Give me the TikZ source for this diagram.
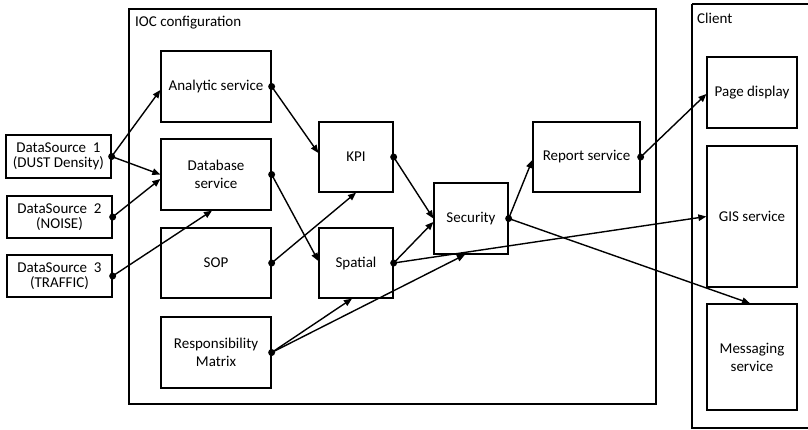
\documentclass[tikz,border=0pt]{standalone}
\usepackage{fontspec}
\setmainfont{Carlito}
\usetikzlibrary{arrows.meta,calc}
\begin{document}
\begin{tikzpicture}[x=1pt,y=-1pt,
  box/.style={draw,line width=1.3pt,inner sep=0pt,align=center,font=\fontsize{15}{18}\selectfont},
  dsbox/.style={box,font=\fontsize{15}{15}\selectfont},
  frame/.style={draw,line width=1.3pt},
  lbl/.style={anchor=west,inner sep=0pt,font=\fontsize{15}{18}\selectfont},
  conn/.style={line width=1.4pt,-{Triangle[length=8pt,width=6.5pt]}},
  dot/.style={circle,fill=black,inner sep=0pt,minimum size=7pt}]
\useasboundingbox (0,0) rectangle (808,429);
% frames
\draw[frame] (129,9) rectangle (656,404);
\draw[frame] (692,4) -- (692,428) -- (830,428);
\draw[frame] (692,4) -- (830,4);
\node[lbl] (ioclbl) at (135,23) {IOC configuration};
\node[lbl] (clientlbl) at (697,18) {Client};
% data sources
\node[dsbox,minimum width=105pt,minimum height=43pt] (ds1) at (58.5,156.5) {DataSource\ \ 1\\(DUST Density)};
\node[dsbox,minimum width=105pt,minimum height=42pt] (ds2) at (59.5,217) {DataSource\ \ 2\\(NOISE)};
\node[dsbox,minimum width=105pt,minimum height=42pt] (ds3) at (59.5,276) {DataSource\ \ 3\\(TRAFFIC)};
% IOC boxes
\node[box,minimum width=110pt,minimum height=71pt] (an) at (216,86.5) {Analytic service};
\node[box,minimum width=110pt,minimum height=71pt] (db) at (216,174.5) {Database\\service};
\node[box,minimum width=110pt,minimum height=70pt] (sop) at (216,263) {SOP};
\node[box,minimum width=110pt,minimum height=71pt] (resp) at (216,352.5) {Responsibility\\Matrix};
\node[box,minimum width=74pt,minimum height=70pt] (kpi) at (356,157) {KPI};
\node[box,minimum width=74pt,minimum height=70pt] (sp) at (356,263) {Spatial};
\node[box,minimum width=74pt,minimum height=71pt] (sec) at (471,218.5) {Security};
\node[box,minimum width=107pt,minimum height=70pt] (rep) at (586.5,157) {Report service};
% client boxes
\node[box,minimum width=90pt,minimum height=71pt] (pd) at (752,92.5) {Page display};
\node[box,minimum width=90pt,minimum height=141pt] (gis) at (752,216.5) {GIS service};
\node[box,minimum width=90pt,minimum height=106pt] (msg) at (752,357) {Messaging\\service};
% connectors
\draw[conn] (ds1.east) -- ([yshift=-3.5pt]an.west);
\draw[conn] (ds1.east) -- (db.west);
\draw[conn] (ds2.east) -- ([yshift=-4.5pt]db.west);
\draw[conn] (ds3.east) -- ([xshift=-4pt]db.south);
\draw[conn] (an.east) -- ([yshift=4pt]kpi.west);
\draw[conn] (db.east) -- ([yshift=2pt]sp.west);
\draw[conn] (sop.east) -- (kpi.south);
\draw[conn] (kpi.east) -- (sec.west);
\draw[conn] (sp.east) -- ([yshift=-3.5pt]sec.west);
\draw[conn] (sp.east) -- (gis.west);
\draw[conn] (resp.east) -- ([xshift=-4pt]sp.south);
\draw[conn] (resp.east) -- ([xshift=-6pt]sec.south);
\draw[conn] (sec.east) -- ([yshift=-3pt]rep.west);
\draw[conn] (sec.east) -- ([xshift=-2pt]msg.north);
\draw[conn] (rep.east) -- ([yshift=-1.5pt]pd.west);
% dots
\foreach \n in {ds1,ds2,ds3,an,db,sop,resp,kpi,sp,sec,rep}
  \node[dot] at (\n.east) {};
\end{tikzpicture}
\end{document}
